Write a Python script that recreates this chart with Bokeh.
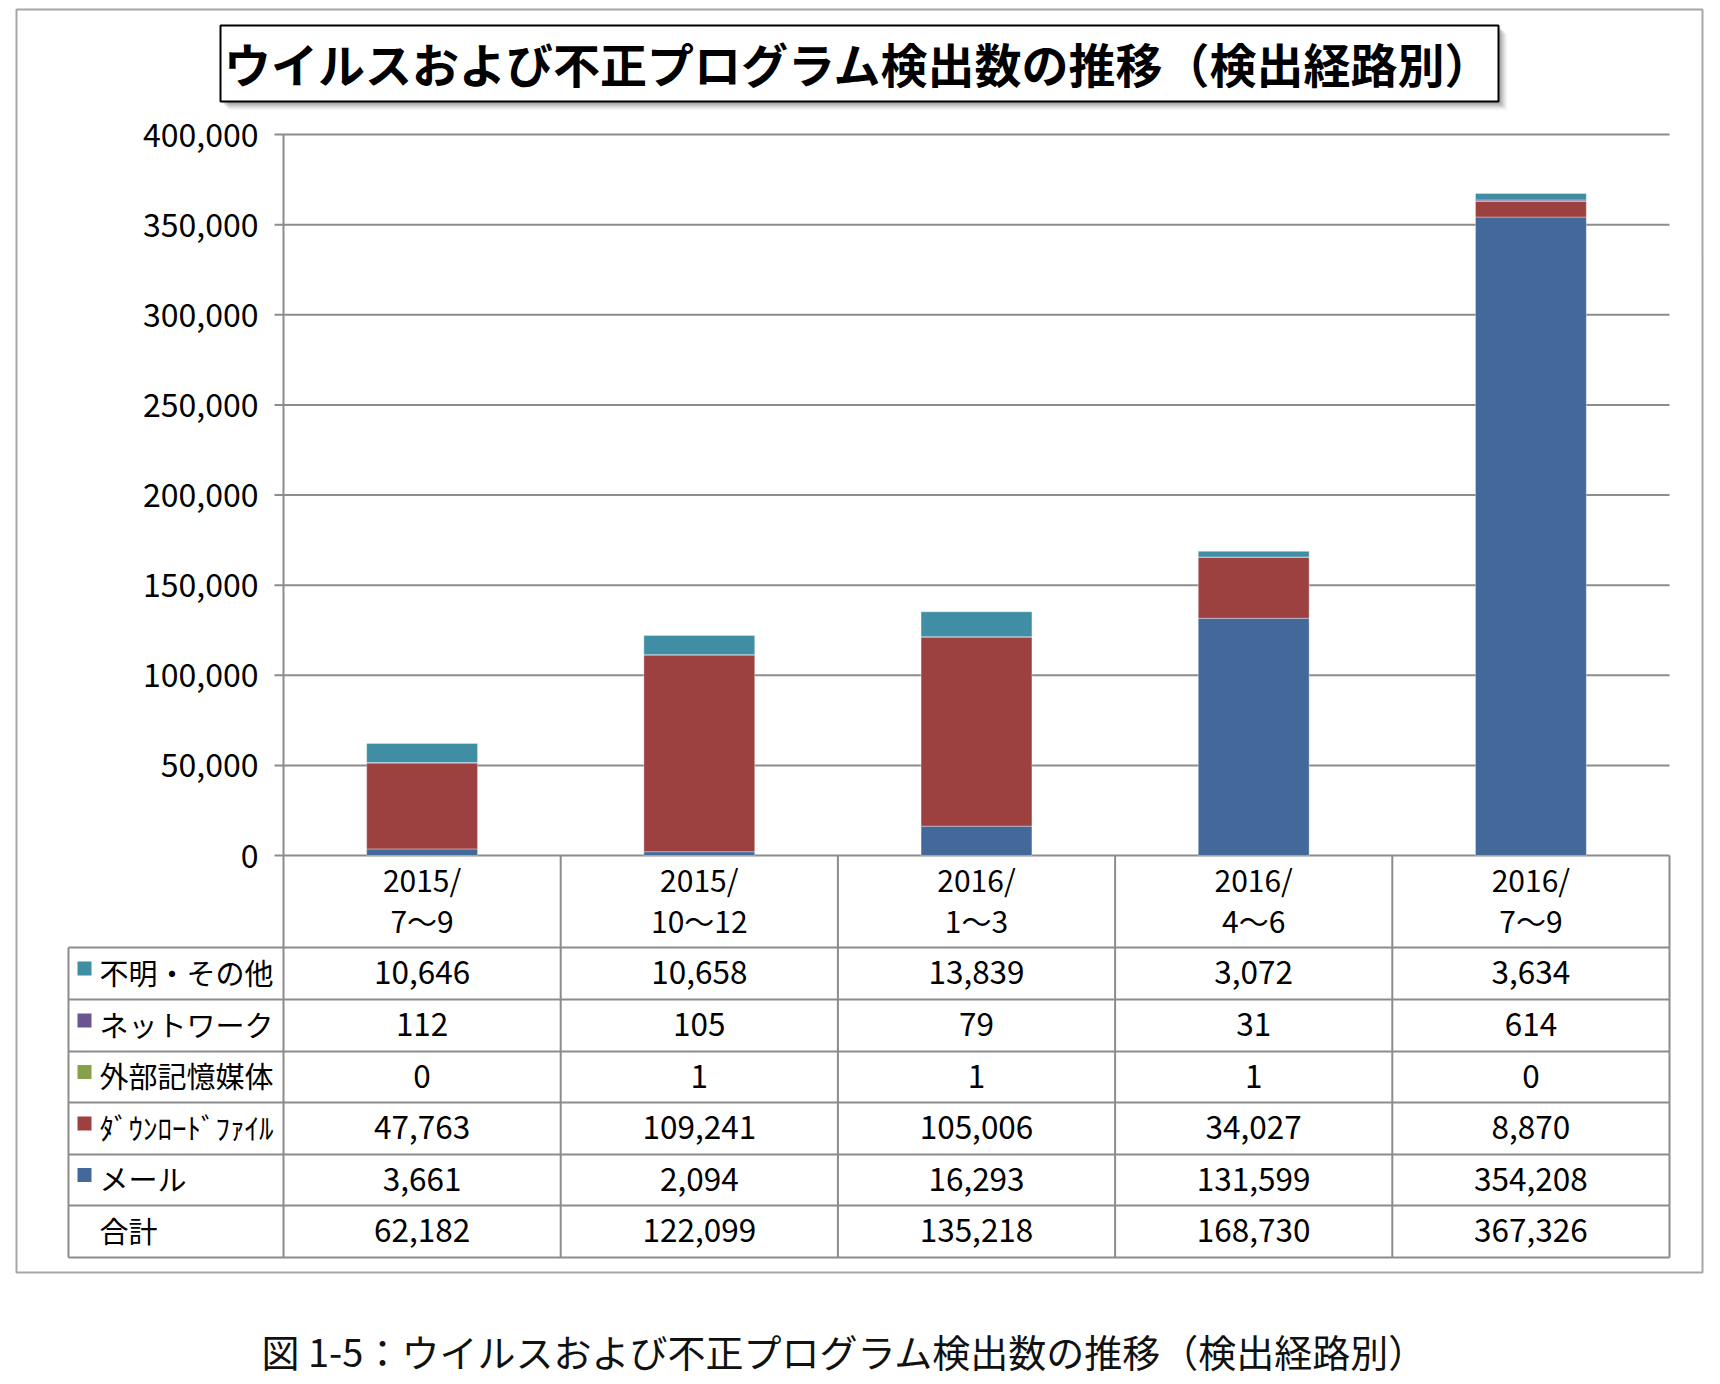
from bokeh.plotting import figure
from bokeh.models import Range1d, ColumnDataSource
from bokeh.core.properties import value
from bokeh.embed import file_html
from bokeh.resources import INLINE

# ---------------- data ----------------
period_year = ["2015/", "2015/", "2016/", "2016/", "2016/"]
period_months = ["7～9", "10～12", "1～3", "4～6", "7～9"]

mail = [3661, 2094, 16293, 131599, 354208]
download = [47763, 109241, 105006, 34027, 8870]
external = [0, 1, 1, 1, 0]
network = [112, 105, 79, 31, 614]
other = [10646, 10658, 13839, 3072, 3634]

row_labels = ["不明・その他", "ネットワーク", "外部記憶媒体", "ﾀﾞｳﾝﾛｰﾄﾞﾌｧｲﾙ", "メール", "合計"]

y_ticks = [0, 50000, 100000, 150000, 200000, 250000, 300000, 350000, 400000]
y_tick_labels = ["0", "50,000", "100,000", "150,000", "200,000",
                 "250,000", "300,000", "350,000", "400,000"]

title_text = "ウイルスおよび不正プログラム検出数の推移（検出経路別）"
caption_text = "図 1-5：ウイルスおよび不正プログラム検出数の推移（検出経路別）"

# ---------------- styles ----------------
C_MAIL = "#426999"
C_DL = "#9c4140"
C_EXT = "#87a04b"
C_NET = "#6b5591"
C_OTHER = "#3f8ea3"
GRID = "#8c8c8c"
FONT = value("Noto Sans CJK JP")

# layout (page pixels; the page template has no body margin)
PX0, PX1, PY0, PY1 = 0, 1712, 0, 1384
PL, PR = 283, 1669          # plot area left/right
Y0, YT = 855, 134           # value 0 / value 400000
VMAX = 400000
N = len(mail)

p = figure(width=PX1 - PX0, height=PY1 - PY0,
           x_range=Range1d(PX0, PX1), y_range=Range1d(PY1, PY0),
           x_axis_type=None, y_axis_type=None,
           toolbar_location=None, output_backend="svg",
           min_border=0, outline_line_color=None)
p.grid.visible = False

u = (PR - PL) / N
p.extra_x_ranges = {"cat": Range1d(-(PL - PX0) / u, N + (PX1 - PR) / u)}
k = VMAX / (Y0 - YT)
p.extra_y_ranges = {"val": Range1d(-(PY1 - Y0) * k, VMAX + (YT - PY0) * k)}

# outer frame
p.quad(left=16, right=1702, top=9, bottom=1272, fill_color=None,
       line_color="#a6a6a6", line_width=2)

# title box with shadow
for i, a in enumerate([0.10, 0.10, 0.09, 0.08, 0.07, 0.05, 0.04, 0.03]):
    off = 2 + i
    p.quad(left=220 + off, right=1498 + off, top=25 + off, bottom=101 + off,
           fill_color="#404040", fill_alpha=a, line_color=None)
p.quad(left=220, right=1498, top=25, bottom=101, fill_color="white",
       line_color="black", line_width=2)
p.text(x=[858], y=[62], text=[title_text], text_font=FONT,
       text_font_size="47px", text_font_style="bold", text_color="black",
       text_align="center", text_baseline="middle")

# gridlines (value axis)
p.segment(x0=[274] * len(y_ticks), x1=[PR] * len(y_ticks), y0=y_ticks,
          y1=y_ticks, y_range_name="val", line_color=GRID, line_width=2)
p.text(x=[258] * len(y_ticks), y=y_ticks, text=y_tick_labels,
       y_range_name="val", text_font=FONT, text_font_size="32px",
       text_color="black", text_align="right", text_baseline="middle")

# stacked bars
src = ColumnDataSource(dict(x=[i + 0.5 for i in range(N)], mail=mail,
                            download=download, external=external,
                            network=network, other=other))
p.vbar_stack(["mail", "download", "external", "network", "other"],
             x="x", width=0.4, source=src,
             color=[C_MAIL, C_DL, C_EXT, C_NET, C_OTHER],
             line_color="white", line_alpha=0.35, line_width=1,
             x_range_name="cat", y_range_name="val")

# ---------------- data table ----------------
row_lines = [947, 999, 1051, 1102, 1154, 1205, 1257]
TL = 68
p.segment(x0=[TL] * len(row_lines), x1=[PR] * len(row_lines),
          y0=row_lines, y1=row_lines, line_color=GRID, line_width=2)
p.segment(x0=[TL], x1=[TL], y0=[row_lines[0]], y1=[row_lines[-1]],
          line_color=GRID, line_width=2)
p.segment(x0=[PL], x1=[PL], y0=[YT], y1=[row_lines[-1]],
          line_color=GRID, line_width=2)
p.segment(x0=list(range(1, N + 1)), x1=list(range(1, N + 1)),
          y0=[Y0] * N, y1=[row_lines[-1]] * N, x_range_name="cat",
          line_color=GRID, line_width=2)

# header
xs = [i + 0.5 for i in range(N)]
p.text(x=xs, y=[878] * N, text=period_year, x_range_name="cat",
       text_font=FONT, text_font_size="30px", text_align="center",
       text_baseline="middle", text_color="black")
p.text(x=xs, y=[919] * N, text=period_months, x_range_name="cat",
       text_font=FONT, text_font_size="30px", text_align="center",
       text_baseline="middle", text_color="black")

totals = [a + b + c + d + e for a, b, c, d, e in zip(mail, download, external, network, other)]
rows = [other, network, external, download, mail, totals]
swatches = [C_OTHER, C_NET, C_EXT, C_DL, C_MAIL, None]
for r, vals in enumerate(rows):
    yc = (row_lines[r] + row_lines[r + 1]) / 2
    p.text(x=xs, y=[yc - 1] * N, text=[f"{v:,}" for v in vals], x_range_name="cat",
           text_font=FONT, text_font_size="31.5px", text_align="center",
           text_baseline="middle", text_color="black")
    if swatches[r]:
        p.quad(left=77, right=91, top=yc - 12, bottom=yc + 2,
               fill_color=swatches[r], line_color=None)
    p.text(x=[99], y=[yc - 2], text=[row_labels[r]], text_font=FONT,
           text_font_size="29px", text_align="left", text_baseline="middle",
           text_color="black")

# caption
p.text(x=[261], y=[1350], text=[caption_text], text_font=FONT,
       text_font_size="38px", text_align="left", text_baseline="middle",
       text_color="#111111")

open("out.html", "w").write(file_html(p, INLINE))
